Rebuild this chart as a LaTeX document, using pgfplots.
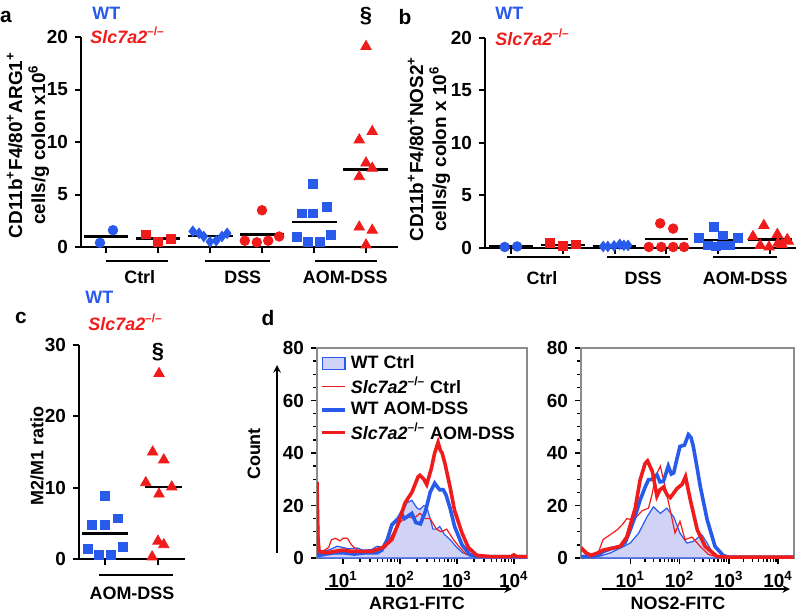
\documentclass[border=0pt]{standalone}
\usepackage{fontspec}
\setmainfont{Liberation Sans}
\usepackage{pgfplots}
\pgfplotsset{compat=1.18}

\definecolor{wtblue}{RGB}{40,90,235}
\definecolor{kored}{RGB}{240,28,28}
\definecolor{fillblue}{RGB}{208,210,246}

\newcommand\tl{\fontsize{9.5}{11}\selectfont\bfseries}
\newcommand\lb{\fontsize{9}{11}\selectfont\bfseries}
\newcommand\ko{\textit{Slc7a2}\textsuperscript{–/–}}

\pgfplotsset{
  scatterax/.style={
    scale only axis, clip=false,
    axis x line=bottom, axis y line=left,
    axis line style={-, line width=1bp},
    tick style={black, line width=1bp},
    tick align=outside, major tick length=3bp,
    xtick={0,...,5}, xticklabels={},
    ymin=0,
    tick label style={font=\tl},
    /pgf/number format/assume math mode=true,
  },
  wtcirc/.style={only marks, mark=*, mark size=2.4bp, color=wtblue},
  kocirc/.style={only marks, mark=*, mark size=2.4bp, color=kored},
  wtsq/.style={only marks, mark=square*, mark size=2.2bp, color=wtblue},
  kosq/.style={only marks, mark=square*, mark size=2.2bp, color=kored},
  wtdia/.style={only marks, mark=diamond*, mark size=2.6bp, color=wtblue},
  kotri/.style={only marks, mark=triangle*, mark size=3bp, color=kored},
  med/.style={black, line width=1.2bp, mark=none, sharp plot},
  thinln/.style={line width=0.6bp, mark=none},
  thickln/.style={line width=1.8bp, mark=none},
  legline/.style={legend image code/.code={\draw[##1] (0cm,0cm) -- (0.4cm,0cm);}},
  legbox/.style={legend image code/.code={\draw[##1] (0cm,-0.11cm) rectangle (0.4cm,0.11cm);}},
}

\begin{document}
\begin{tikzpicture}
\path[use as bounding box] (0,0) rectangle (400bp,-307.5bp);

% ---------- a ----------
\begin{axis}[scatterax, at={(40.5bp,-123.5bp)}, anchor=south west,
  width=158.5bp, height=105bp, xmin=-0.48, xmax=5.615, ymax=20,
  ytick={0,5,10,15,20}]
\addplot[wtcirc] coordinates {(-0.115,0.4) (0.135,1.6)};
\addplot[kosq] coordinates {(0.77,1.2) (1.0,0.5) (1.25,0.8)};
\addplot[wtdia] coordinates {(1.67,1.5) (1.79,1.3) (1.88,1.0) (2.0,0.5) (2.12,0.6) (2.23,1.0) (2.33,1.3)};
\addplot[kocirc] coordinates {(2.67,0.6) (2.9,0.45) (3.0,3.5) (3.12,0.6) (3.33,1.0)};
\addplot[wtsq] coordinates {(3.67,1.0) (3.77,3.2) (3.88,0.5) (3.98,3.2) (3.98,6.0) (4.12,0.5) (4.25,3.8) (4.33,1.15)};
\addplot[kotri] coordinates {(4.87,10.2) (4.87,6.7) (4.87,1.9) (5.0,19.1) (5.0,8.0) (5.0,0.2) (5.12,11.0) (5.12,7.5) (5.12,1.6)};
\addplot[med] coordinates {(-0.42,1.0) (0.42,1.0)};
\addplot[med] coordinates {(0.58,0.8) (1.42,0.8)};
\addplot[med] coordinates {(1.58,1.05) (2.44,1.05)};
\addplot[med] coordinates {(2.58,1.2) (3.42,1.2)};
\addplot[med] coordinates {(3.58,2.4) (4.44,2.4)};
\addplot[med] coordinates {(4.56,7.4) (5.42,7.4)};
\draw[line width=0.6bp] (axis cs:0,-1.33) -- (axis cs:1.2,-1.33);
\draw[line width=0.6bp] (axis cs:1.9,-1.33) -- (axis cs:3.15,-1.33);
\draw[line width=0.6bp] (axis cs:4.02,-1.33) -- (axis cs:5.21,-1.33);
\node[font=\lb] at (axis cs:0.65,-2.86) {Ctrl};
\node[font=\lb] at (axis cs:2.63,-2.86) {DSS};
\node[font=\lb] at (axis cs:4.6,-2.86) {AOM-DSS};
\end{axis}

% ---------- b ----------
\begin{axis}[scatterax, at={(242.5bp,-123.75bp)}, anchor=south west,
  width=155.5bp, height=105bp, xmin=-0.5, xmax=5.5, ymax=20,
  ytick={0,5,10,15,20}]
\addplot[wtcirc] coordinates {(-0.12,0.05) (0.12,0.1)};
\addplot[kosq] coordinates {(0.75,0.45) (1.0,0.15) (1.25,0.3)};
\addplot[wtdia] coordinates {(1.78,0.1) (1.87,0.1) (1.99,0.15) (2.1,0.3) (2.18,0.2) (2.26,0.2)};
\addplot[kocirc] coordinates {(2.66,0.05) (2.9,0.05) (3.13,0.05) (3.34,0.05) (2.88,2.3) (3.13,1.8)};
\addplot[wtsq] coordinates {(3.92,2.0) (4.09,1.15) (4.38,0.95) (3.63,0.95) (3.8,0.2) (3.96,0.1) (4.07,0.2) (4.23,0.2)};
\addplot[kotri] coordinates {(4.88,2.1) (5.14,1.25) (4.67,1.05) (5.33,0.75) (4.81,0.2) (4.98,0.05) (5.15,0.4) (5.23,0.3) (5.35,0.6)};
\addplot[med] coordinates {(-0.42,0.1) (0.42,0.1)};
\addplot[med] coordinates {(0.58,0.25) (1.42,0.25)};
\addplot[med] coordinates {(1.58,0.15) (2.42,0.15)};
\addplot[med] coordinates {(2.58,0.8) (3.42,0.8)};
\addplot[med] coordinates {(3.58,0.7) (4.42,0.7)};
\addplot[med] coordinates {(4.58,0.75) (5.42,0.75)};
\draw[line width=0.6bp] (axis cs:-0.08,-0.9) -- (axis cs:1.14,-0.9);
\draw[line width=0.6bp] (axis cs:1.85,-0.9) -- (axis cs:3.07,-0.9);
\draw[line width=0.6bp] (axis cs:3.9,-0.9) -- (axis cs:5.14,-0.9);
\node[font=\lb] at (axis cs:0.6,-2.9) {Ctrl};
\node[font=\lb] at (axis cs:2.55,-2.9) {DSS};
\node[font=\lb] at (axis cs:4.52,-2.9) {AOM-DSS};
\end{axis}

% ---------- c ----------
\begin{axis}[scatterax, at={(39.5bp,-279.5bp)}, anchor=south west,
  width=53bp, height=107bp, xmin=-0.49, xmax=1.51, ymax=30,
  xtick={0,1}, ytick={0,10,20,30}]
\addplot[wtsq] coordinates {(0,8.8) (-0.25,4.8) (0,4.8) (0.25,5.7) (-0.32,1.4) (-0.11,0.6) (0.11,0.6) (0.34,1.7)};
\addplot[kotri] coordinates {(1.02,26.0) (0.9,15.0) (1.11,13.9) (0.77,10.7) (1.02,9.1) (1.26,10.1) (1.0,2.5) (1.11,2.0) (0.89,0.3)};
\addplot[med] coordinates {(-0.43,3.6) (0.43,3.6)};
\addplot[med] coordinates {(0.75,10.1) (1.45,10.1)};
\draw[line width=0.6bp] (axis cs:-0.11,-2.24) -- (axis cs:1.28,-2.24);
\node[font=\lb] at (axis cs:0.51,-4.8) {AOM-DSS};
\end{axis}

% ---------- d left ----------
\begin{axis}[xmode=log, scale only axis, at={(158.5bp,-279bp)}, anchor=south west,
  width=105bp, height=105bp, xmin=3.5, xmax=17000,
  ymin=0, ymax=80, ytick={0,20,40,60,80}, minor y tick num=3,
  xtick={10,100,1000,10000},
  xticklabels={10\textsuperscript{1},10\textsuperscript{2},10\textsuperscript{3},10\textsuperscript{4}},
  tick pos=left, tick align=outside, major tick length=3bp, minor tick length=1.8bp,
  axis line style={black!45, line width=0.6bp},
  tick style={black, line width=0.7bp},
  tick label style={font=\tl},
  /pgf/number format/assume math mode=true,
  legend style={at={(0.015,0.985)}, anchor=north west, draw=none, fill=none,
    font=\lb, inner sep=0pt, row sep=-1.2bp, cells={anchor=west}}]
\addplot[wtblue, thinln, fill=fillblue, legbox] table {
x y
3.5 18
3.63 4
4 2
6.3 3.5
7.9 4.5
10 4
12.6 3.5
17.8 3.8
22.4 3
31.6 3.2
40 4.5
50 4
66 7
83 11
100 15
132 21
162 22
200 19
224 18.5
263 20
295 19.5
339 15
380 11
437 11
501 12
603 9
759 7
1000 4
1259 2
1995 0.5
17000 0.3
} \closedcycle;
\addlegendentry{WT Ctrl}
\addplot[kored, thinln, legline] table {
x y
3.5 10
3.63 3
4 2
5.6 4
6.3 7
7.4 7.5
8.9 6.5
10 7.5
12 7.5
14.1 5
17.8 3
25 2.5
40 2.5
56 4
66 7
79 10
100 13.5
132 16
174 15
224 17
282 15
339 15
437 11
525 10
661 11
871 7
1122 4
1479 1.3
2512 0.3
17000 0.3
};
\addlegendentry{\ko{} Ctrl}
\addplot[wtblue, thickln, legline] table {
x y
3.5 19
3.63 5
3.8 1
5 1.5
7.1 2
10 2
15.8 1.5
25 2
40 2
48 3
60 7
72 12.6
93 15
105 17
120 15
162 17
190 13.5
229 13
282 18
339 25
407 28.5
457 27
501 26
575 26
646 24
759 19
912 12
1230 5
1698 1.2
3162 0.5
17000 0.5
};
\addlegendentry{WT AOM-DSS}
\addplot[kored, thickln, legline] table {
x y
3.5 29
3.63 8
3.8 2.5
5 2
7.1 2.5
10 3
14 2.5
20 2.5
32 2.5
50 4
72 7
93 13
123 21
162 25
209 31
224 31.5
263 30
295 28
355 34
407 40
468 44
513 41
550 40
617 36
759 27
912 18
1230 9.5
1585 4
2239 1
3981 0.5
8913 0.5
10000 1.2
11220 0.5
17000 0.5
};
\addlegendentry{\ko{} AOM-DSS}
\end{axis}

% ---------- d right ----------
\begin{axis}[xmode=log, scale only axis, at={(290.5bp,-279bp)}, anchor=south west,
  width=106.5bp, height=105bp, xmin=1, xmax=21000,
  ymin=0, ymax=80, ytick={0,20,40,60,80}, minor y tick num=3,
  xtick={10,100,1000,10000},
  xticklabels={10\textsuperscript{1},10\textsuperscript{2},10\textsuperscript{3},10\textsuperscript{4}},
  tick pos=left, tick align=outside, major tick length=3bp, minor tick length=1.8bp,
  axis line style={black!45, line width=0.6bp},
  tick style={black, line width=0.7bp},
  tick label style={font=\tl},
  /pgf/number format/assume math mode=true]
\addplot[wtblue, thinln, fill=fillblue] table {
x y
1 1
1.4 0.3
2.5 0.8
4 2
6.3 3.8
10 5.7
14.8 9.5
21.9 15.7
29.5 19.5
40.7 17
55 19
76 15.7
102 9.5
141 5.7
190 6.3
282 8.9
363 5.7
490 1.3
708 0.3
21000 0.3
} \closedcycle;
\addplot[kored, thinln] table {
x y
1 3
1.26 1.5
1.58 0.5
2.24 2
2.8 7
4 9
5.4 10.7
7.1 13
8.5 15
11.7 14.5
17.4 18
23.4 19
27.5 24
32.4 31
40.7 35
51 27
65 18
81 9.5
102 14
129 7
178 8
263 4.4
389 1.3
631 0.3
21000 0.3
};
\addplot[wtblue, thickln] table {
x y
1 0.5
1.58 0.8
2.24 1
2.8 2.4
4 3.5
6.3 4.4
7.9 6
10 10.8
12.6 16
15.8 22
20 27
23.4 29.8
28 30
34.7 31.7
40 29
47 29.2
59 35
68 32
76 32.4
89 38
102 42.5
126 43
151 47
170 46
190 42.5
224 35
263 27.3
363 14.6
525 4.4
776 0.9
1000 0.3
21000 0.3
};
\addplot[kored, thickln] table {
x y
1 4
1.26 2
1.58 1
2.24 2
2.8 3
5 4
6.3 4.5
8.5 8
12.6 19
15.8 29.7
20 36
22.4 37
28 33
34.7 23.6
40 26
47 27
56 24
65 23
89 26.5
112 28
132 31
166 22
229 10.7
331 4.4
575 0.6
1000 0.3
21000 0.3
};
\end{axis}

% ---------- annotations ----------
\node[font=\fontsize{10.5}{12}\selectfont\bfseries] at (3bp,-8.5bp) {a};
\node[font=\fontsize{10.5}{12}\selectfont\bfseries] at (202.5bp,-8.5bp) {b};
\node[font=\fontsize{10.5}{12}\selectfont\bfseries] at (10.5bp,-159bp) {c};
\node[font=\fontsize{10.5}{12}\selectfont\bfseries] at (134bp,-159bp) {d};

\node[font=\lb, text=wtblue, anchor=west, inner sep=0pt] at (46bp,-6.5bp) {WT};
\node[font=\lb, text=kored, anchor=west, inner sep=0pt] at (45bp,-17.5bp) {\ko};
\node[font=\lb, text=wtblue, anchor=west, inner sep=0pt] at (247.5bp,-6.5bp) {WT};
\node[font=\lb, text=kored, anchor=west, inner sep=0pt] at (247.5bp,-18.5bp) {\ko};
\node[font=\lb, text=wtblue, anchor=west, inner sep=0pt] at (42.5bp,-148.5bp) {WT};
\node[font=\lb, text=kored, anchor=west, inner sep=0pt] at (44bp,-161bp) {\ko};

\node[font=\fontsize{11}{12}\selectfont\bfseries] at (183bp,-8bp) {§};
\node[font=\fontsize{11}{12}\selectfont\bfseries] at (79bp,-176bp) {§};

\node[rotate=90, align=center, font=\fontsize{9.5}{11.5}\selectfont\bfseries] at (14bp,-72.5bp)
  {CD11b\textsuperscript{+}F4/80\textsuperscript{+}ARG1\textsuperscript{+}\\cells/g colon x10\textsuperscript{6}};
\node[rotate=90, align=center, font=\fontsize{9.5}{11.5}\selectfont\bfseries] at (214.5bp,-74.5bp)
  {CD11b\textsuperscript{+}F4/80\textsuperscript{+}NOS2\textsuperscript{+}\\cells/g colon x 10\textsuperscript{6}};
\node[rotate=90, font=\lb] at (18.5bp,-228bp) {M2/M1 ratio};

\node[rotate=90, font=\lb] at (127bp,-227bp) {Count};
\draw[-stealth, line width=0.7bp] (138.5bp,-276.5bp) -- (138.5bp,-182.5bp);
\draw[-stealth, line width=0.7bp] (162.5bp,-294.5bp) -- (256bp,-294.5bp);
\draw[-stealth, line width=0.7bp] (301bp,-294.5bp) -- (395bp,-294.5bp);
\node[font=\lb] at (208.5bp,-301.5bp) {ARG1-FITC};
\node[font=\lb] at (339bp,-301.5bp) {NOS2-FITC};
\end{tikzpicture}
\end{document}
